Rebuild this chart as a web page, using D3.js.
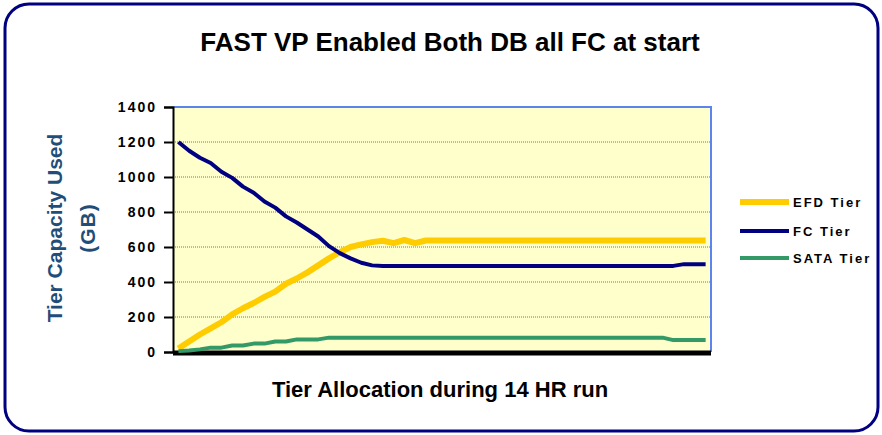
<!DOCTYPE html>
<html>
<head>
<meta charset="utf-8">
<script src="https://cdn.jsdelivr.net/npm/d3@7"></script>
<style>
  body { margin: 0; background: #fff; }
  text { font-family: "Liberation Sans", Arial, sans-serif; }
</style>
</head>
<body>
<div id="main"></div>
<script>
// readings, 50 samples over the run
const efd = [20, 60, 100, 135, 170, 215, 250, 280, 315, 345,
             390, 420, 455, 495, 535, 570, 600, 615, 628, 636,
             622, 640, 622, 637, 637, 637, 637, 637, 637, 637,
             637, 637, 637, 637, 637, 637, 637, 637, 637, 637,
             637, 637, 637, 637, 637, 637, 637, 637, 637, 637];
const fc = [1200, 1150, 1110, 1080, 1030, 995, 945, 910, 860, 825,
            775, 740, 700, 660, 605, 565, 535, 510, 495, 492,
            492, 492, 492, 492, 492, 492, 492, 492, 492, 492,
            492, 492, 492, 492, 492, 492, 492, 492, 492, 492,
            492, 492, 492, 492, 492, 492, 492, 502, 502, 502];
const sata = [5, 8, 15, 25, 25, 37, 37, 48, 48, 60,
              60, 72, 72, 72, 82, 82, 82, 82, 82, 82,
              82, 82, 82, 82, 82, 82, 82, 82, 82, 82,
              82, 82, 82, 82, 82, 82, 82, 82, 82, 82,
              82, 82, 82, 82, 82, 82, 68, 68, 68, 68];
const yTicks = [0, 200, 400, 600, 800, 1000, 1200, 1400];
const seriesNames = ["EFD Tier", "FC Tier", "SATA Tier"];
const seriesColors = ["#FFCC00", "#000080", "#339966"];
const seriesWidths = [6, 4, 4];

const width = 882, height = 435;
const config = {left: 173, right: 711, top: 107, bottom: 352};

const svg = d3.select("#main").append("svg")
    .attr("width", width)
    .attr("height", height);

// outer rounded frame
svg.append("rect")
    .attr("x", 5).attr("y", 4)
    .attr("width", 873).attr("height", 427)
    .attr("rx", 24)
    .attr("fill", "#fff")
    .attr("stroke", "#000080")
    .attr("stroke-width", 3);

svg.append("text")
    .attr("x", 450).attr("y", 51)
    .attr("text-anchor", "middle")
    .attr("font-size", 26)
    .attr("font-weight", "bold")
    .text("FAST VP Enabled Both DB all FC at start");

const idx = d3.range(efd.length);
const xScale = d3.scaleBand()
    .domain(idx)
    .range([config.left, config.right]);
const xPos = i => xScale(i) + xScale.bandwidth() / 2;

const yScale = d3.scaleLinear()
    .domain([0, 1400])
    .range([config.bottom, config.top]);

// plot background
svg.append("rect")
    .attr("x", config.left).attr("y", config.top)
    .attr("width", config.right - config.left)
    .attr("height", config.bottom - config.top)
    .attr("fill", "#FFFFCC");

// gridlines
svg.append("g")
  .selectAll("line")
  .data(yTicks.filter(d => d > 0 && d < 1400))
  .join("line")
    .attr("x1", config.left).attr("x2", config.right)
    .attr("y1", d => yScale(d)).attr("y2", d => yScale(d))
    .attr("stroke", "#777")
    .attr("stroke-dasharray", "1,1");

// blue top / right border
svg.append("path")
    .attr("d", `M${config.left},${config.top}H${config.right}V${config.bottom}`)
    .attr("fill", "none")
    .attr("stroke", "#5B84F0")
    .attr("stroke-width", 2);

// Y axis
const yAxis = svg.append("g")
    .attr("transform", `translate(${config.left},0)`)
    .call(d3.axisLeft(yScale).tickValues(yTicks).tickFormat(d3.format("d"))
            .tickSize(9).tickPadding(7));
yAxis.select(".domain").attr("stroke", "#000").attr("stroke-width", 2);
yAxis.selectAll(".tick line").attr("stroke", "#000").attr("stroke-width", 2);
yAxis.selectAll(".tick text")
    .attr("font-family", "'Liberation Sans', Arial, sans-serif")
    .attr("font-size", 14)
    .attr("font-weight", "bold")
    .attr("letter-spacing", "2px")
    .attr("fill", "#000");

// thick x axis bar
svg.append("line")
    .attr("x1", config.left).attr("x2", config.right)
    .attr("y1", config.bottom + 1).attr("y2", config.bottom + 1)
    .attr("stroke", "#000")
    .attr("stroke-width", 5);

// series lines
const line = d3.line()
    .x((d, i) => xPos(i))
    .y(d => yScale(d));

[efd, fc, sata].forEach((s, k) => {
  svg.append("path")
      .datum(s)
      .attr("d", line)
      .attr("fill", "none")
      .attr("stroke", seriesColors[k])
      .attr("stroke-width", seriesWidths[k])
      .attr("stroke-linejoin", "round");
});

// axis titles
svg.append("text")
    .attr("transform", "translate(62,228) rotate(-90)")
    .attr("text-anchor", "middle")
    .attr("font-size", 21)
    .attr("font-weight", "bold")
    .attr("fill", "#1F4E79")
    .text("Tier Capacity Used");
svg.append("text")
    .attr("transform", "translate(95,228) rotate(-90)")
    .attr("text-anchor", "middle")
    .attr("font-size", 21)
    .attr("font-weight", "bold")
    .attr("fill", "#1F4E79")
    .attr("letter-spacing", "1px")
    .text("(GB)");

svg.append("text")
    .attr("x", 440).attr("y", 397)
    .attr("text-anchor", "middle")
    .attr("font-size", 22)
    .attr("font-weight", "bold")
    .text("Tier Allocation during 14 HR run");

// legend
const legend = svg.append("g")
  .selectAll("g")
  .data(seriesNames)
  .join("g")
    .attr("transform", (d, i) => `translate(740,${[202, 231, 258][i]})`);
legend.append("line")
    .attr("x1", 0).attr("x2", 49)
    .attr("stroke", (d, i) => seriesColors[i])
    .attr("stroke-width", (d, i) => seriesWidths[i]);
legend.append("text")
    .attr("x", 53).attr("dy", "0.36em")
    .attr("font-size", 13)
    .attr("font-weight", "bold")
    .attr("letter-spacing", "2px")
    .text(d => d);
</script>
</body>
</html>
